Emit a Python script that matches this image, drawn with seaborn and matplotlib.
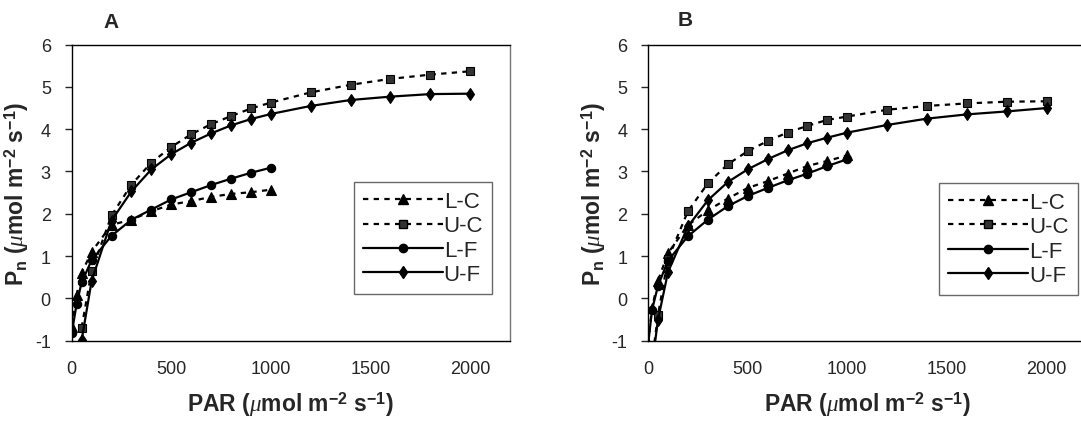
import matplotlib
matplotlib.use('Agg')
import seaborn as sns
import matplotlib.pyplot as plt
from matplotlib.lines import Line2D

sns.set_style('white')
plt.rcParams['font.family'] = ['Liberation Sans', 'DejaVu Sans']
plt.rcParams['axes.unicode_minus'] = False
plt.rcParams['mathtext.fontset'] = 'custom'
plt.rcParams['mathtext.rm'] = 'Liberation Sans'
plt.rcParams['mathtext.bf'] = 'Liberation Sans:bold'
plt.rcParams['mathtext.it'] = 'Liberation Serif:italic'

# panel A
a_par_l = [0, 25, 50, 100, 200, 300, 400, 500, 600, 700, 800, 900, 1000]
a_par_u = [50, 100, 200, 300, 400, 500, 600, 700, 800, 900, 1000, 1200, 1400, 1600, 1800, 2000]
a_lc = [-0.67, 0.08, 0.60, 1.10, 1.74, 1.86, 2.06, 2.22, 2.30, 2.40, 2.47, 2.51, 2.57]
a_lf = [-0.83, -0.13, 0.38, 0.90, 1.48, 1.86, 2.10, 2.34, 2.51, 2.68, 2.83, 2.97, 3.09]
a_uc = [-0.69, 0.64, 1.96, 2.69, 3.21, 3.58, 3.88, 4.12, 4.31, 4.49, 4.63, 4.87, 5.05, 5.19, 5.29, 5.37]
a_uf = [-0.99, 0.41, 1.84, 2.53, 3.05, 3.41, 3.68, 3.90, 4.09, 4.24, 4.36, 4.55, 4.69, 4.77, 4.83, 4.84]

# panel B
b_par_l = [0, 20, 50, 100, 200, 300, 400, 500, 600, 700, 800, 900, 1000]
b_par_u = [25, 50, 100, 200, 300, 400, 500, 600, 700, 800, 900, 1000, 1200, 1400, 1600, 1800, 2000]
b_lc = [-1.05, -0.23, 0.42, 1.07, 1.73, 2.08, 2.36, 2.61, 2.77, 2.95, 3.13, 3.25, 3.38]
b_lf = [-1.10, -0.27, 0.30, 0.89, 1.47, 1.86, 2.18, 2.42, 2.61, 2.79, 2.95, 3.13, 3.29]
b_uc = [-1.30, -0.39, 0.93, 2.06, 2.72, 3.17, 3.48, 3.72, 3.92, 4.08, 4.22, 4.30, 4.46, 4.55, 4.61, 4.65, 4.66]
b_uf = [-1.40, -0.50, 0.62, 1.70, 2.32, 2.75, 3.05, 3.29, 3.50, 3.67, 3.80, 3.92, 4.10, 4.25, 4.35, 4.42, 4.50]

labels = ['L-C', 'U-C', 'L-F', 'U-F']

dash = (0, (2.4, 2.4))
styles = {
    'L-C': dict(marker='^', ms=6.5, ls=dash),
    'U-C': dict(marker='s', ms=5.5, ls=dash, mfc='#333333'),
    'L-F': dict(marker='o', ms=6, ls='-'),
    'U-F': dict(marker='d', ms=6.5, ls='-'),
}

fig = plt.figure(figsize=(10.81, 4.27), dpi=100)
ax_a = fig.add_axes([0.0663, 0.1998, 0.4055, 0.6934])
ax_b = fig.add_axes([0.5995, 0.1998, 0.4055, 0.6934])

panels = [
    (ax_a, [(a_par_l, a_lc), (a_par_u, a_uc), (a_par_l, a_lf), (a_par_u, a_uf)], (0.959, 0.158)),
    (ax_b, [(b_par_l, b_lc), (b_par_u, b_uc), (b_par_l, b_lf), (b_par_u, b_uf)], (0.980, 0.155)),
]

unit = r'($\mu$mol m$^{\mathbf{-2}}$ s$^{\mathbf{-1}}$)'

for ax, series, anchor in panels:
    for lab, (xs, ys) in zip(labels, series):
        st = styles[lab]
        sns.lineplot(x=xs, y=ys, ax=ax, color='black', sort=False, lw=1.6,
                     marker=st['marker'], markersize=st['ms'], linestyle=st['ls'],
                     markerfacecolor=st.get('mfc', 'black'), markeredgecolor='black',
                     markeredgewidth=0.8)
    ax.set_xlim(0, 2200)
    ax.set_ylim(-1, 6)
    ax.set_xticks([0, 500, 1000, 1500, 2000])
    ax.set_yticks(range(-1, 7))
    ax.tick_params(axis='x', length=0, pad=14, labelsize=13)
    ax.tick_params(axis='y', left=True, direction='out', length=5, width=1, pad=10, labelsize=13)
    for s in ax.spines.values():
        s.set_color('black')
        s.set_linewidth(1)
    ax.spines['right'].set_color('#777777')
    ax.set_xlabel('PAR ' + unit, fontsize=16.5, fontweight='bold')
    ax.xaxis.set_label_coords(0.5, -0.165)
    ax.set_ylabel(r'P$_{\mathbf{n}}$ ' + unit, fontsize=16.5, fontweight='bold')
    ax.yaxis.set_label_coords(-0.092, 0.5)

    handles = [Line2D([], [], color='black', lw=1.6, marker=styles[l]['marker'],
                      markersize=styles[l]['ms'], linestyle=styles[l]['ls'],
                      markerfacecolor=styles[l].get('mfc', 'black'), markeredgecolor='black')
               for l in labels]
    leg = ax.legend(handles, labels, loc='lower right', bbox_to_anchor=anchor,
                    borderaxespad=0, fontsize=16, handlelength=3.6, handletextpad=0.05,
                    labelspacing=0.15, borderpad=0.4, frameon=True, fancybox=False)
    leg.get_frame().set_edgecolor('#444444')
    leg.get_frame().set_linewidth(1)

fig.text(111.5 / 1081, 1 - 22.6 / 427, 'A', fontsize=15, fontweight='bold', ha='center', va='center')
fig.text(685 / 1081, 1 - 20.8 / 427, 'B', fontsize=15, fontweight='bold', ha='center', va='center')

fig.savefig('out.png', dpi=100)
